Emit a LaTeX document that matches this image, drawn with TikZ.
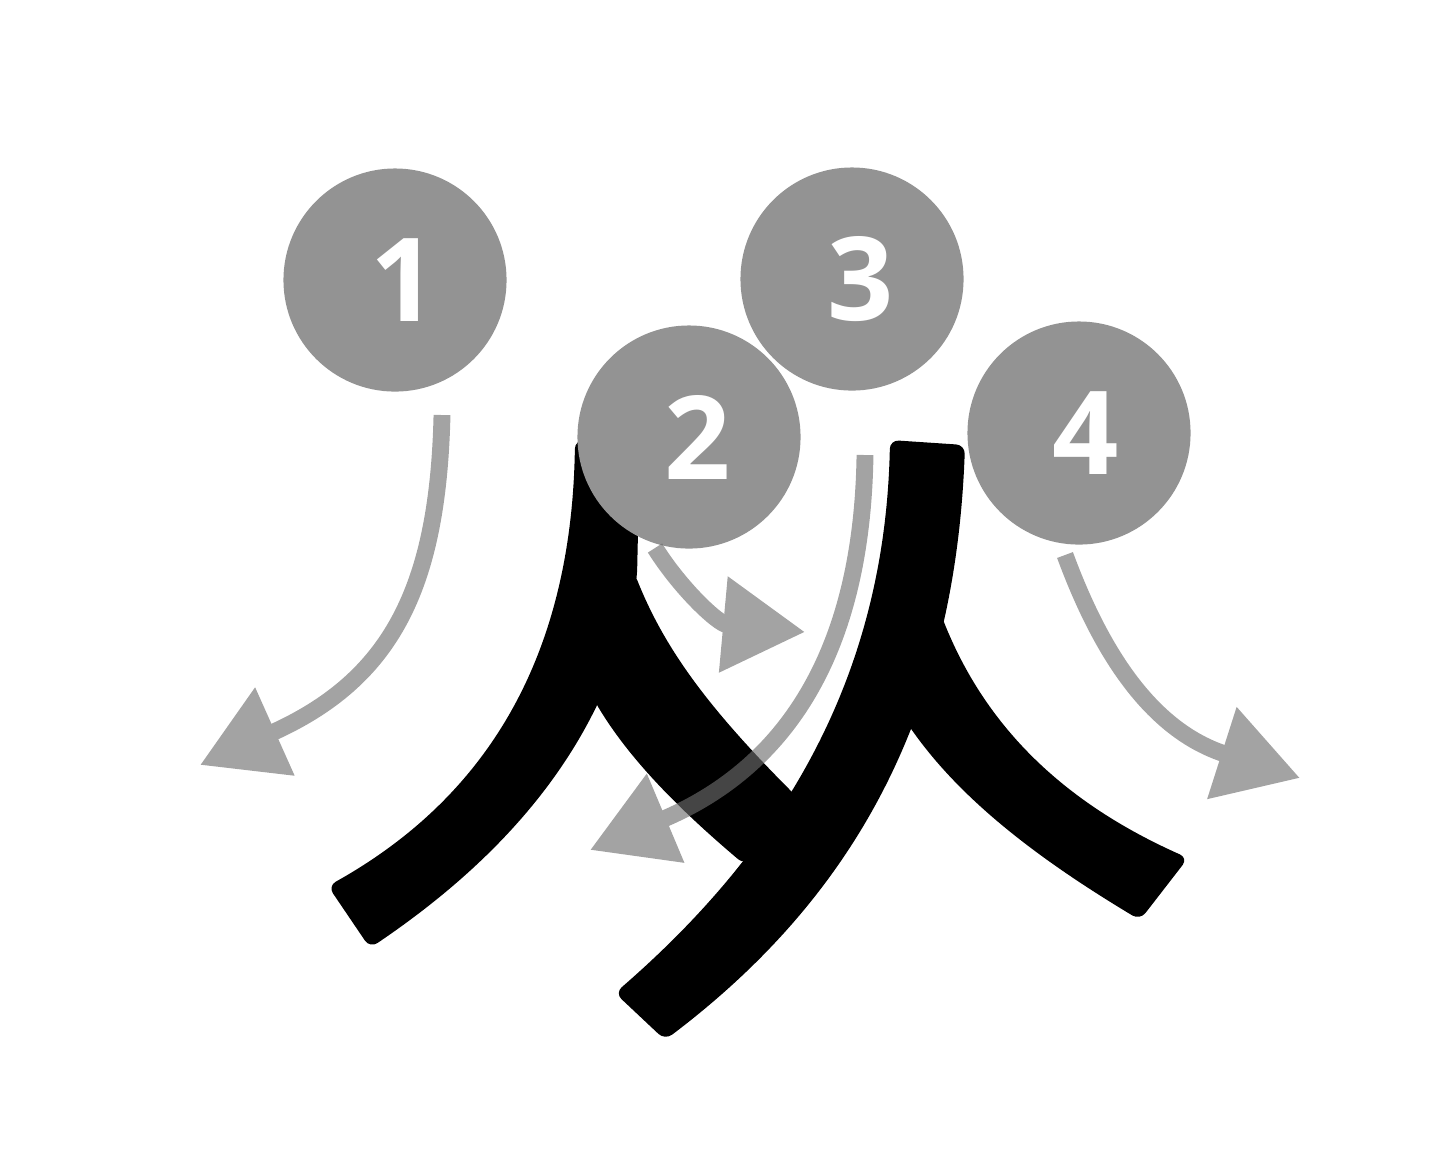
\documentclass[tikz,border=0pt]{standalone}
\usepackage{fontspec}
\setmainfont{Open Sans}
\usetikzlibrary{arrows.meta}
\definecolor{circgray}{RGB}{147,147,147}
\definecolor{arrgray}{RGB}{110,110,110}
\tikzset{
  num/.style={circle, fill=circgray, minimum size=2.23cm, inner sep=0pt,
    text=white, font=\fontsize{33}{33}\selectfont\bfseries},
  strokeshape/.style={fill=black, draw=none, rounded corners=2.5pt},
  strokearrow/.style={draw=arrgray, line width=4.8pt,
    -{Triangle[length=0.82cm,width=0.92cm]}},
  arrowgroup/.style={transparency group, opacity=0.63},
}
\begin{document}
\begin{tikzpicture}[x=0.01cm,y=-0.01cm]
\useasboundingbox (0,0) rectangle (1440,1156);
% stroke 1 (left pie)
\fill[strokeshape] (575,440) .. controls (572,640) and (500,790) .. (328,886)
  -- (370,948)
  .. controls (530,840) and (612,720) .. (637,577) -- (640,440) -- cycle;
% stroke 2 (left na)
\fill[strokeshape] (634,572) .. controls (665,650) and (710,710) .. (800,800)
  -- (745,865) .. controls (680,810) and (630,760) .. (594,700) -- (575,650) -- cycle;
% stroke 3 (right pie)
\fill[strokeshape] (890,440) .. controls (885,680) and (780,850) .. (615,993)
  -- (665,1040) .. controls (850,900) and (955,720) .. (965,445) -- cycle;
% stroke 4 (right na)
\fill[strokeshape] (940,612) .. controls (990,740) and (1080,810) .. (1188,858)
  -- (1140,920) .. controls (1040,860) and (960,800) .. (905,720) -- cycle;
% circles
\node[num] (n1) at (395,280) {\hspace{0.18cm}1};
\node[num] (n3) at (852,279) {\hspace{0.18cm}3};
\node[num] (n2) at (689,437) {\hspace{0.18cm}2};
\node[num] (n4) at (1079,433) {\hspace{0.14cm}4};
% arrow coordinates
\coordinate (a1s) at (442,415); \coordinate (a1e) at (200,765);
\coordinate (a2s) at (655,548); \coordinate (a2e) at (805,632);
\coordinate (a3s) at (865,455); \coordinate (a3e) at (590,850);
\coordinate (a4s) at (1065,555); \coordinate (a4e) at (1300,778);
\begin{scope}[arrowgroup]
\draw[strokearrow] (a1s) .. controls (438,590) and (390,680) .. (a1e);
\end{scope}
\begin{scope}[arrowgroup]
\draw[strokearrow] (a2s) .. controls (680,588) and (718,624) .. (a2e);
\end{scope}
\begin{scope}[arrowgroup]
\draw[strokearrow] (a3s) .. controls (862,660) and (780,770) .. (a3e);
\end{scope}
\begin{scope}[arrowgroup]
\draw[strokearrow] (a4s) .. controls (1100,650) and (1150,730) .. (a4e);
\end{scope}
\end{tikzpicture}
\end{document}
